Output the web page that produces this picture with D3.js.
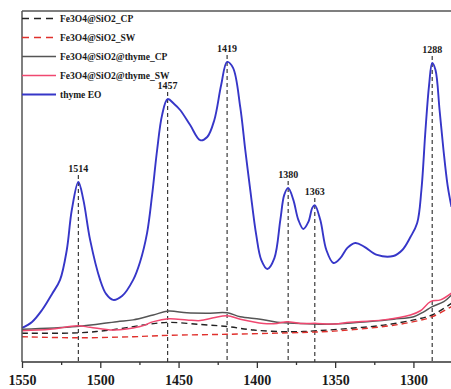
<!DOCTYPE html>
<html>
<head>
<meta charset="utf-8">
<script src="https://cdn.jsdelivr.net/npm/d3@7"></script>
<style>
  body { margin: 0; background: #fff; }
  svg { display: block; }
  text { font-family: "Liberation Serif", "Times New Roman", serif; font-weight: bold; fill: #1a1a1a; }
</style>
</head>
<body>
<svg id="chart" width="451" height="389"></svg>
<script>
// spectra : [wavenumber (cm-1), intensity (a.u.)]
const thymeEO = [
  [1550, 9.7], [1543.6, 11.4], [1537.2, 14.8], [1530.8, 19.4], [1525.7, 23.4], [1521.4, 31.9],
  [1518.2, 43.3], [1514, 51.3], [1510.8, 46.2], [1506.5, 34.8], [1500.1, 23.4], [1496.3, 19.4],
  [1491.8, 17.7], [1486.1, 18.8], [1479, 23.4], [1474.6, 28.5], [1470.1, 36.8], [1466.9, 47.6],
  [1463.7, 60.4], [1460.5, 70.4], [1457, 74.9], [1452.8, 73.5], [1449, 71.8], [1442.6, 67.5],
  [1436.2, 63.2], [1431.7, 64.1], [1427.2, 68.9], [1422.8, 78.9], [1419, 85.5], [1415.2, 83.8],
  [1410.6, 72.6], [1407.4, 60.4], [1404.2, 49.0], [1400.4, 36.2], [1397.2, 29.1], [1393.3, 26.5],
  [1388.8, 29.6], [1385, 40.5], [1382.5, 47.6], [1380, 49.6], [1376.7, 46.2], [1373.5, 40.5],
  [1370.3, 37.9], [1367.1, 39.9], [1364.6, 43.9], [1363, 44.7], [1359.5, 40.5], [1355.6, 31.9],
  [1351.1, 28.2], [1346.7, 29.6], [1342.2, 32.5], [1337.1, 33.9], [1331.3, 32.8], [1323.2, 30.5],
  [1312.8, 30.2], [1307.1, 31.9], [1301.9, 35.6], [1297.6, 39.6], [1294.9, 49.0], [1292.3, 66.1],
  [1290, 78.9], [1288, 85.2], [1285.9, 83.2], [1283.3, 71.8], [1280.8, 60.4], [1278.2, 50.4],
  [1275.7, 44.2]
];
const thymeCP = [
  [1550, 9.3], [1515, 10.1], [1489.4, 11.5], [1479, 12.0], [1466.2, 13.4], [1456.5, 14.5],
  [1444.7, 14.0], [1431.9, 13.9], [1418.9, 14.0], [1410.6, 12.9], [1397.8, 12.2], [1387.1, 11.3],
  [1372.2, 11.0], [1350.9, 10.8], [1329.6, 11.5], [1312.6, 12.2], [1299.8, 12.9], [1293.4, 14.3],
  [1288, 15.8], [1280.6, 17.2], [1275.7, 19.1]
];
const thymeSW = [
  [1550, 8.9], [1532.1, 9.3], [1514.6, 10.3], [1506.5, 9.9], [1491.6, 9.1], [1474.6, 10.1],
  [1466, 11.5], [1456.5, 12.3], [1444.7, 12.0], [1436.2, 11.8], [1427.7, 12.6], [1418.9, 13.2],
  [1410.6, 12.2], [1395.7, 11.0], [1387.1, 11.0], [1380.8, 11.5], [1372.2, 11.0], [1361.6, 11.0],
  [1353, 10.8], [1340.3, 11.3], [1319, 12.0], [1301.9, 13.4], [1295.5, 14.6], [1289.1, 17.2],
  [1282.7, 17.7], [1275.7, 19.6]
];
const sio2CP = [
  [1550, 8.2], [1514.6, 8.3], [1493.7, 9.1], [1468.2, 10.8], [1456.5, 11.3], [1436.2, 10.7],
  [1418.9, 10.1], [1402.1, 9.1], [1379.7, 8.6], [1361.6, 8.9], [1340.3, 9.6], [1319, 10.5],
  [1299.8, 12.0], [1288, 13.4], [1275.7, 16.7]
];
const sio2SW = [
  [1550, 7.2], [1515, 6.9], [1478.8, 7.2], [1456.5, 7.6], [1418.9, 7.9], [1379.7, 8.3],
  [1350.9, 8.8], [1319, 10.1], [1299.8, 11.5], [1288, 12.9], [1275.7, 15.8]
];

const peaks = [1514, 1457, 1419, 1380, 1363, 1288];
const peakValues = [51.3, 74.9, 85.5, 49.6, 44.7, 85.2];
const xTicks = [1550, 1525, 1500, 1475, 1450, 1425, 1400, 1375, 1350, 1325, 1300];

const series = [
  { name: "Fe3O4@SiO2_CP", data: sio2CP, color: "#222222", dash: "6,4", width: 1.4 },
  { name: "Fe3O4@SiO2_SW", data: sio2SW, color: "#e0302c", dash: "6,4", width: 1.4 },
  { name: "Fe3O4@SiO2@thyme_CP", data: thymeCP, color: "#555555", dash: null, width: 1.5 },
  { name: "Fe3O4@SiO2@thyme_SW", data: thymeSW, color: "#f04870", dash: null, width: 1.5 },
  { name: "thyme EO", data: thymeEO, color: "#3636c8", dash: null, width: 1.9 }
];

const svg = d3.select("#chart");
const plotLeft = 22, plotTop = 11, plotBottom = 362, plotRight = 451;

const x = d3.scaleLinear().domain([1550, 1276]).range([plotLeft, plotRight]);
const y = d3.scaleLinear().domain([0, 100]).range([plotBottom, plotTop]);

// peak markers
peaks.forEach((p, i) => {
  const yl = y(peakValues[i]) - 10;
  svg.append("line")
    .attr("x1", x(p)).attr("x2", x(p))
    .attr("y1", yl + 3).attr("y2", plotBottom)
    .attr("stroke", "#3a3a3a").attr("stroke-width", 1.2)
    .attr("stroke-dasharray", "4,3");
  svg.append("text")
    .attr("x", x(p)).attr("y", yl)
    .attr("text-anchor", "middle")
    .style("font-size", "10px")
    .text(p);
});

const line = d3.line()
  .x(d => x(d[0]))
  .y(d => y(d[1]))
  .curve(d3.curveCatmullRom.alpha(0.5));

svg.append("g").selectAll("path")
  .data(series)
  .join("path")
  .attr("d", d => line(d.data))
  .attr("fill", "none")
  .attr("stroke", d => d.color)
  .attr("stroke-width", d => d.width)
  .attr("stroke-dasharray", d => d.dash);

// frame
svg.append("line").attr("x1", plotLeft).attr("x2", plotRight).attr("y1", plotTop).attr("y2", plotTop)
  .attr("stroke", "#555").attr("stroke-width", 1.5);
svg.append("line").attr("x1", plotLeft).attr("x2", plotLeft).attr("y1", plotTop).attr("y2", plotBottom)
  .attr("stroke", "#555").attr("stroke-width", 1.5);

// x axis
const axis = d3.axisBottom(x)
  .tickValues(xTicks)
  .tickSize(0)
  .tickFormat(d => d % 50 === 0 ? d : "");
const gx = svg.append("g")
  .attr("transform", `translate(0,${plotBottom})`)
  .call(axis);
gx.select(".domain").attr("stroke", "#333").attr("stroke-width", 1.5)
  .attr("d", `M${plotLeft},0H${plotRight}`);
gx.selectAll(".tick line")
  .attr("stroke", "#333").attr("stroke-width", 1.3)
  .attr("y2", d => d % 50 === 0 ? 6 : 3);
gx.selectAll(".tick text")
  .attr("y", 13)
  .style("font-size", "14px")
  .style("font-family", "'Liberation Serif', 'Times New Roman', serif")
  .style("font-weight", "bold")
  .attr("fill", "#1a1a1a");

// legend
const legend = svg.append("g");
series.forEach((s, i) => {
  const ly = 18.5 + i * 19;
  legend.append("line")
    .attr("x1", plotLeft).attr("x2", s.dash ? 53 : 56)
    .attr("y1", ly).attr("y2", ly)
    .attr("stroke", s.color).attr("stroke-width", s.width)
    .attr("stroke-dasharray", s.dash ? "7,5" : null);
  legend.append("text")
    .attr("x", 60).attr("y", ly + 3)
    .style("font-size", "9.5px")
    .text(s.name);
});
</script>
</body>
</html>
